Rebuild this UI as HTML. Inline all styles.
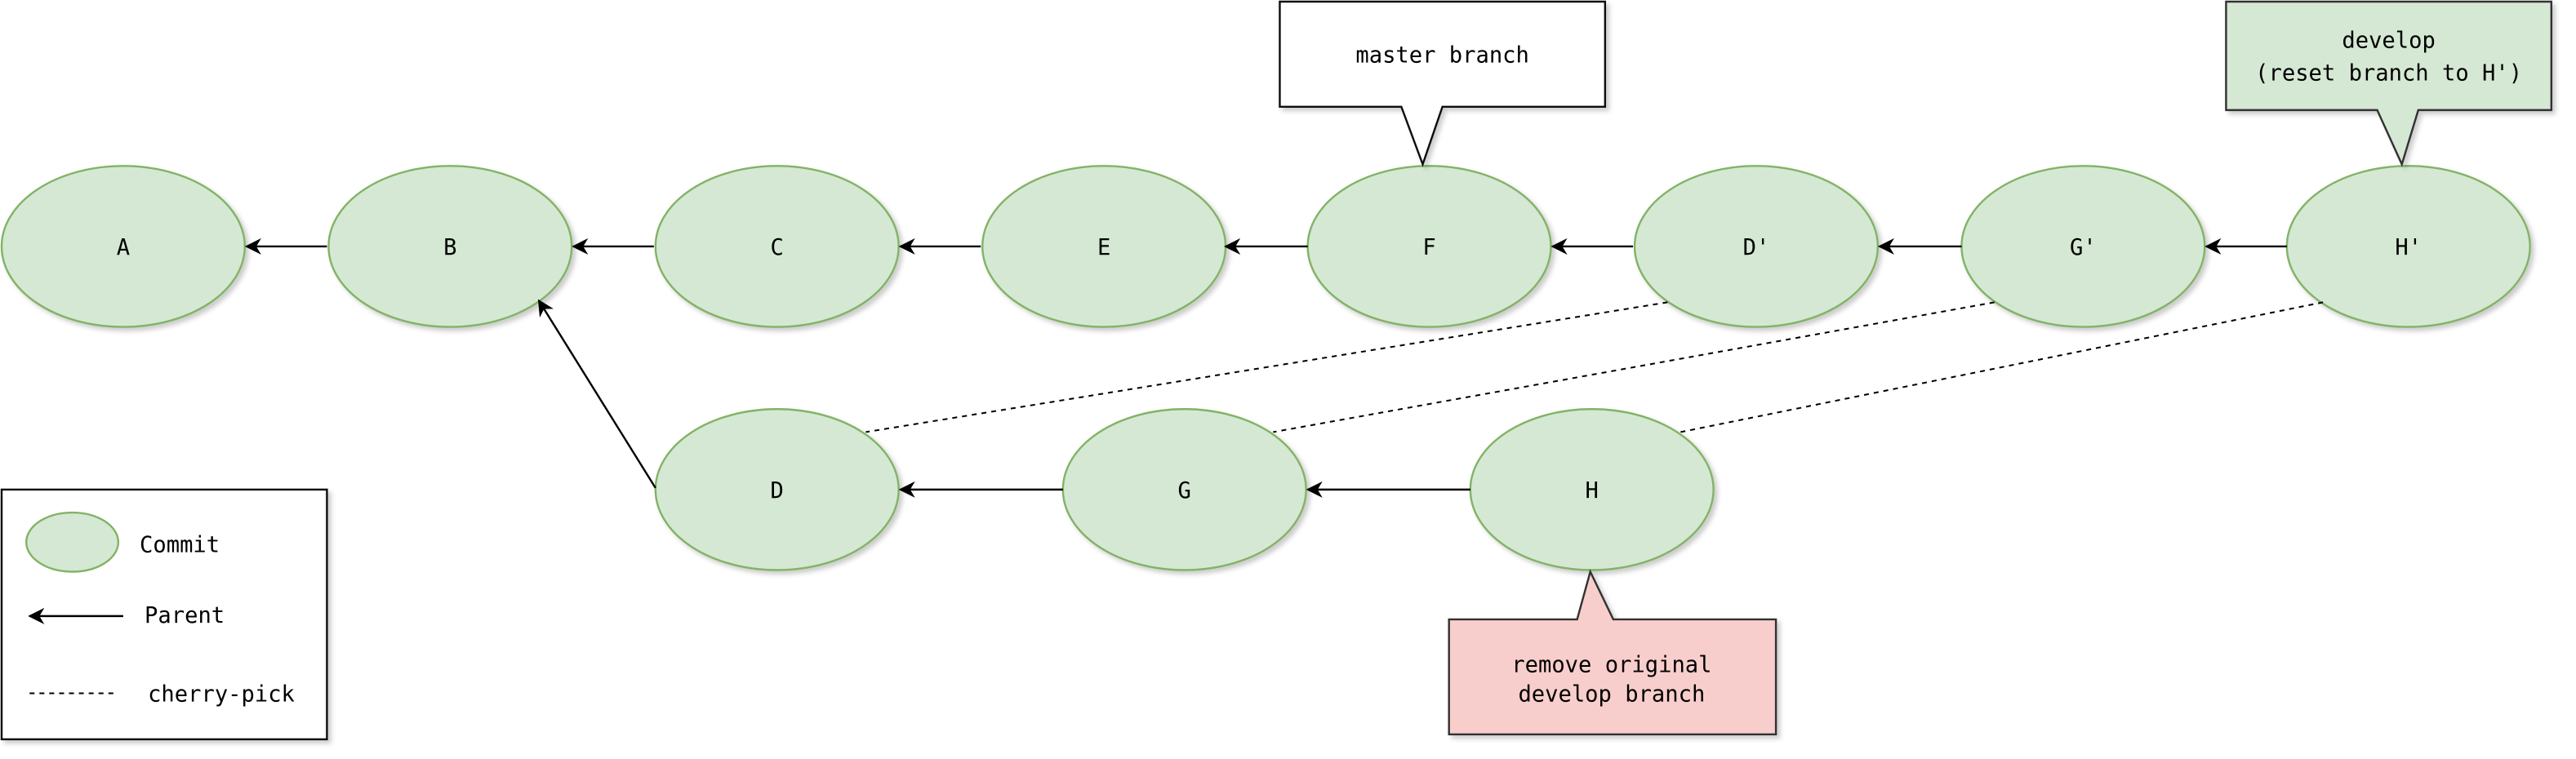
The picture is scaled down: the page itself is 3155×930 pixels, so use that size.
<!DOCTYPE html>
<html><head><meta charset="utf-8"><style>html,body{margin:0;padding:0;background:#fff}svg{display:block}</style></head>
<body>
<svg width="3155" height="930" viewBox="0 0 1568 462" preserveAspectRatio="none" xmlns="http://www.w3.org/2000/svg" font-family="'DejaVu Sans Mono', 'Liberation Mono', monospace" font-size="13.5">
<defs>
<marker id="ar" viewBox="0 0 10 10" refX="9" refY="5" markerWidth="10" markerHeight="10" markerUnits="userSpaceOnUse" orient="auto">
<path d="M0,0 L10,5 L0,10 L3,5 Z" fill="#000"/>
</marker>
<filter id="sh" x="-10%" y="-10%" width="130%" height="130%"><feDropShadow dx="2" dy="2" stdDeviation="1.5" flood-color="#000" flood-opacity="0.2"/></filter>
</defs>
<g fill="#d5e8d4" stroke="#82b366" stroke-width="1.2" filter="url(#sh)">
<ellipse cx="75" cy="150" rx="74" ry="49"/>
<ellipse cx="274" cy="150" rx="74" ry="49"/>
<ellipse cx="473" cy="150" rx="74" ry="49"/>
<ellipse cx="672" cy="150" rx="74" ry="49"/>
<ellipse cx="870" cy="150" rx="74" ry="49"/>
<ellipse cx="1069" cy="150" rx="74" ry="49"/>
<ellipse cx="1268" cy="150" rx="74" ry="49"/>
<ellipse cx="1466" cy="150" rx="74" ry="49"/>
<ellipse cx="473" cy="298" rx="74" ry="49"/>
<ellipse cx="721" cy="298" rx="74" ry="49"/>
<ellipse cx="969" cy="298" rx="74" ry="49"/>
</g>
<g text-anchor="middle" fill="#000">
<text x="75" y="155">A</text><text x="274" y="155">B</text><text x="473" y="155">C</text><text x="672" y="155">E</text>
<text x="870" y="155">F</text><text x="1069" y="155">D'</text><text x="1268" y="155">G'</text><text x="1466" y="155">H'</text>
<text x="473" y="303">D</text><text x="721" y="303">G</text><text x="969" y="303">H</text>
</g>
<g stroke="#000" stroke-width="1.2" marker-end="url(#ar)">
<line x1="199" y1="150" x2="150" y2="150"/>
<line x1="398" y1="150" x2="349" y2="150"/>
<line x1="597" y1="150" x2="548" y2="150"/>
<line x1="796" y1="150" x2="746" y2="150"/>
<line x1="994" y1="150" x2="945" y2="150"/>
<line x1="1194" y1="150" x2="1144" y2="150"/>
<line x1="1392" y1="150" x2="1343" y2="150"/>
<line x1="647" y1="298" x2="548" y2="298"/>
<line x1="895" y1="298" x2="796" y2="298"/>
<line x1="399" y1="297" x2="328" y2="183"/>
</g>
<g stroke="#000" stroke-width="1" stroke-dasharray="3,3">
<line x1="1015" y1="184" x2="527" y2="263"/>
<line x1="1214" y1="184" x2="775" y2="263"/>
<line x1="1414" y1="184" x2="1023" y2="263"/>
</g>
<g filter="url(#sh)" stroke-width="1.2">
<path d="M779,1 H977 V65 H878 L866,100 L853,65 H779 Z" fill="#fff" stroke="#111"/>
<path d="M1355,1 H1553 V67 H1472 L1462,100 L1447,67 H1355 Z" fill="#d5e8d4" stroke="#333"/>
<path d="M882,377 H960 L968,348 L982,377 H1081 V447 H882 Z" fill="#f8cecc" stroke="#333"/>
<rect x="1" y="298" width="198" height="152" fill="#fff" stroke="#111"/>
</g>
<g text-anchor="middle" fill="#000">
<text x="878" y="38">master branch</text>
<text x="1454" y="29">develop</text>
<text x="1454" y="49">(reset branch to H')</text>
<text x="981" y="409">remove original</text>
<text x="981" y="427">develop branch</text>
</g>
<ellipse cx="44" cy="330" rx="28" ry="18" fill="#d5e8d4" stroke="#82b366" stroke-width="1.2"/>
<line x1="75" y1="375" x2="18" y2="375" stroke="#000" stroke-width="1.2" marker-end="url(#ar)"/>
<line x1="18" y1="422" x2="72" y2="422" stroke="#000" stroke-dasharray="3,3"/>
<text x="85" y="336">Commit</text>
<text x="88" y="379">Parent</text>
<text x="90" y="427">cherry-pick</text>
</svg>
</body></html>
